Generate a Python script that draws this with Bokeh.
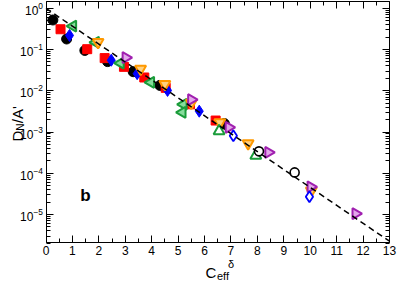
import numpy as np
from bokeh.plotting import figure
from bokeh.models import (Range1d, LinearAxis, LogAxis, SingleIntervalTicker, FixedTicker,
                          Label, CustomLabelingPolicy)
from bokeh.embed import file_html
from bokeh.resources import INLINE

# ---------------- data ----------------
black_x = [0.26, 0.78, 1.47, 2.33, 3.30, 4.31, 6.75]
black_y = [0.52, 0.18, 0.095, 0.051, 0.029, 0.0135, 0.0016]

red_x = [0.55, 1.56, 2.22, 2.95, 3.72, 4.53, 5.45, 6.42]
red_y = [0.31, 0.102, 0.062, 0.038, 0.021, 0.0118, 0.0047, 0.0019]

blue_x = [0.89, 2.47, 3.45, 4.60, 5.80]
blue_y = [0.22, 0.055, 0.026, 0.0102, 0.0032]

greenL_x = [1.02, 1.88, 2.82, 3.97, 5.20, 5.16]
greenL_y = [0.37, 0.15, 0.047, 0.016, 0.0047, 0.0030]

orange_x = [1.97, 3.58, 4.50, 5.50, 6.58, 7.65, 10.04]
orange_y = [0.15, 0.034, 0.0145, 0.0051, 0.0017, 0.00053, 3.8e-5]

purple_x = [3.02, 5.50, 6.92, 8.42, 10.02, 11.72]
purple_y = [0.064, 0.0061, 0.0013, 0.00032, 4.7e-5, 1.05e-5]

greenU_x = [6.55, 7.94]
greenU_y = [0.00105, 0.00027]

blueO_x = [7.09, 9.97]
blueO_y = [0.00081, 2.7e-5]

blackO_x = [8.06, 9.41]
blackO_y = [0.00034, 0.000105]

line_x = [0.0, 13.0]
line_y = [1.0, 2.26e-6]

y_major = [1e-5, 1e-4, 1e-3, 1e-2, 1e-1, 1e0]
y_minor = [k * 10.0 ** n for n in range(-6, 1) for k in range(2, 10)]

# axis box (data) limits
X0, X1 = 0.0, 13.0
Y0, Y1 = 2.1e-6, 1.46

# ---------------- layout: box position on the canvas, in pixels ----------------
W, H = 399, 282
BL, BR, BT, BB = 45.5, 389.0, 1.0, 242.0

xs = (X1 - X0) / (BR - BL)                      # data per px
LY0, LY1 = np.log10(Y0), np.log10(Y1)
ys = (LY1 - LY0) / (BB - BT)                    # decades per px
xr = Range1d(X0 - BL * xs, X1 + (W - BR) * xs)
yr = Range1d(10 ** (LY0 - (H - BB) * ys), 10 ** (LY1 + BT * ys))


def xd(px):
    return X0 + (px - BL) * xs


def yd(py):
    return 10 ** (LY1 - (py - BT) * ys)


p = figure(width=W, height=H, output_backend="svg", toolbar_location=None,
           x_range=xr, y_range=yr, y_axis_type="log",
           min_border_left=0, min_border_right=0, min_border_top=0, min_border_bottom=0)
p.grid.visible = False
p.outline_line_color = None
p.background_fill_color = "white"
p.border_fill_color = "white"

FONT = "Liberation Sans"
no_labels = CustomLabelingPolicy(code="for (const i of Array.from(indices)) indices.unset(i); return indices")


def style_axis(ax, labels=True):
    ax.major_tick_in = 7
    ax.major_tick_out = 0
    ax.minor_tick_in = 4
    ax.minor_tick_out = 0
    ax.axis_line_color = "black"
    ax.axis_line_width = 1
    ax.major_tick_line_color = "black"
    ax.minor_tick_line_color = "black"
    ax.major_label_text_font = FONT
    ax.major_label_text_color = "black"
    ax.major_label_text_font_size = "12px"
    ax.major_label_standoff = 3
    if not labels:
        ax.major_label_policy = no_labels


p.xaxis.ticker = SingleIntervalTicker(interval=1, num_minor_ticks=2)
p.yaxis.ticker = FixedTicker(ticks=y_major, minor_ticks=y_minor)
p.xaxis.fixed_location = Y0
p.xaxis.bounds = (X0, X1)
p.yaxis.fixed_location = X0
p.yaxis.bounds = (Y0, Y1)
style_axis(p.xaxis[0])
style_axis(p.yaxis[0])

top = LinearAxis(ticker=SingleIntervalTicker(interval=1, num_minor_ticks=2),
                 fixed_location=Y1, bounds=(X0, X1))
style_axis(top, labels=False)
p.add_layout(top, "above")
right = LogAxis(ticker=FixedTicker(ticks=y_major, minor_ticks=y_minor),
                fixed_location=X1, bounds=(Y0, Y1))
style_axis(right, labels=False)
p.add_layout(right, "right")

# ---------------- markers ----------------
GREEN, GREEN_F = "#1a9c3a", "#86dc9c"
ORANGE, ORANGE_F = "#ff9900", "#ffd080"
PURPLE, PURPLE_F = "#a020b0", "#e3a8ea"

p.scatter(black_x, black_y, marker="circle", size=10, fill_color="black", line_color="black")
p.scatter(red_x, red_y, marker="square", size=9, fill_color="#ff0000", line_color="#ff0000")
p.scatter(blue_x, blue_y, marker="diamond", size=12, fill_color="#0000ff", line_color="#0000ff")
p.scatter(greenL_x, greenL_y, marker="triangle", angle=np.pi / 2, size=11,
          fill_color=GREEN_F, line_color=GREEN, line_width=2)
p.scatter(orange_x, orange_y, marker="inverted_triangle", size=11,
          fill_color=ORANGE_F, line_color=ORANGE, line_width=2)
p.scatter(purple_x, purple_y, marker="triangle", angle=-np.pi / 2, size=11,
          fill_color=PURPLE_F, line_color=PURPLE, line_width=2)
p.scatter(greenU_x, greenU_y, marker="triangle", size=11,
          fill_color="white", line_color=GREEN, line_width=2)
p.scatter(blueO_x, blueO_y, marker="diamond", size=11,
          fill_color="white", line_color="#0000ff", line_width=1.8)
p.scatter(blackO_x, blackO_y, marker="circle", size=9,
          fill_color="white", line_color="black", line_width=1.6)

p.line(line_x, line_y, line_color="black", line_width=1.5, line_dash="6 4")


# ---------------- text labels ----------------
def lab(text, px, py, size, angle=0.0, bold=False, align="left", baseline="alphabetic"):
    p.add_layout(Label(x=xd(px), y=yd(py), text=text, angle=angle,
                       text_font=FONT, text_font_size=size,
                       text_font_style="bold" if bold else "normal",
                       text_color="black", text_align=align, text_baseline=baseline))


# y axis label  D_N/A'
lab("D", 17, 141, "15px", angle=np.pi / 2)
lab("N", 20, 130.2, "10px", angle=np.pi / 2)
lab("/A'", 17, 122.7, "15px", angle=np.pi / 2)

# x axis label  C_eff^delta
lab("C", 205, 271.5, "15px")
lab("eff", 216.5, 275.5, "11px")
lab("δ", 227.5, 263.5, "11px")

# panel tag
lab("b", 85, 195, "17px", bold=True, align="center", baseline="middle")

open("out.html", "w").write(file_html(p, INLINE))
